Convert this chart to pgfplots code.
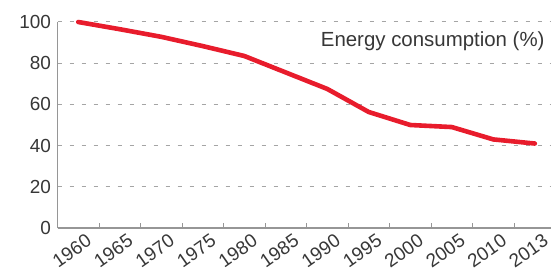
\documentclass[border=0pt]{standalone}
\usepackage{pgfplots}
\pgfplotsset{compat=1.18}
\usepackage{fontspec}
\setmainfont{Liberation Sans}
\definecolor{linered}{RGB}{232,28,44}
\definecolor{gridgray}{RGB}{165,165,165}
\definecolor{axisgray}{RGB}{150,150,150}
\definecolor{textgray}{RGB}{55,55,55}
\begin{document}
\begin{tikzpicture}
\begin{axis}[
  at={(0,0)}, anchor=south west,
  scale only axis, width=493.5bp, height=206bp,
  xmin=-0.5, xmax=11.39, ymin=0, ymax=100,
  axis x line*=bottom, axis y line*=left,
  axis line style={axisgray, line width=1.3bp, -},
  xtick={0,...,11},
  xticklabels={1960,1965,1970,1975,1980,1985,1990,1995,2000,2005,2010,2013},
  minor xtick={0.5,1.5,...,10.5},
  major tick length=0pt, minor tick length=5bp,
  tick align=inside,
  minor tick style={axisgray, line width=1bp},
  ytick={0,20,...,100},
  ymajorgrids,
  grid style={gridgray, dash pattern=on 4.5bp off 7.5bp, line width=1bp},
  /pgf/number format/assume math mode=true,
  ticklabel style={font=\fontsize{19}{22}\selectfont, text=textgray},
  xticklabel style={rotate=35, anchor=north east, inner sep=1bp, xshift=4bp, yshift=-7bp},
  yticklabel style={xshift=-3bp},
  clip=false,
]
\addplot[linered, line width=4.6bp, line join=round, line cap=round] coordinates {
  (0,100) (1,96.5) (2,92.8) (3,88.3) (4,83.5) (5,75.5) (6,67.5) (7,56.3) (8,50) (9,49) (10,43) (11,41)
};
\node[anchor=base east, font=\fontsize{20.5}{24}\selectfont, text=textgray] at (rel axis cs:0.994,0.883) {Energy consumption (\%)};
\end{axis}
\pgfresetboundingbox
\useasboundingbox (-57.5bp,-45bp) rectangle (493.5bp,228bp);
\end{tikzpicture}
\end{document}
